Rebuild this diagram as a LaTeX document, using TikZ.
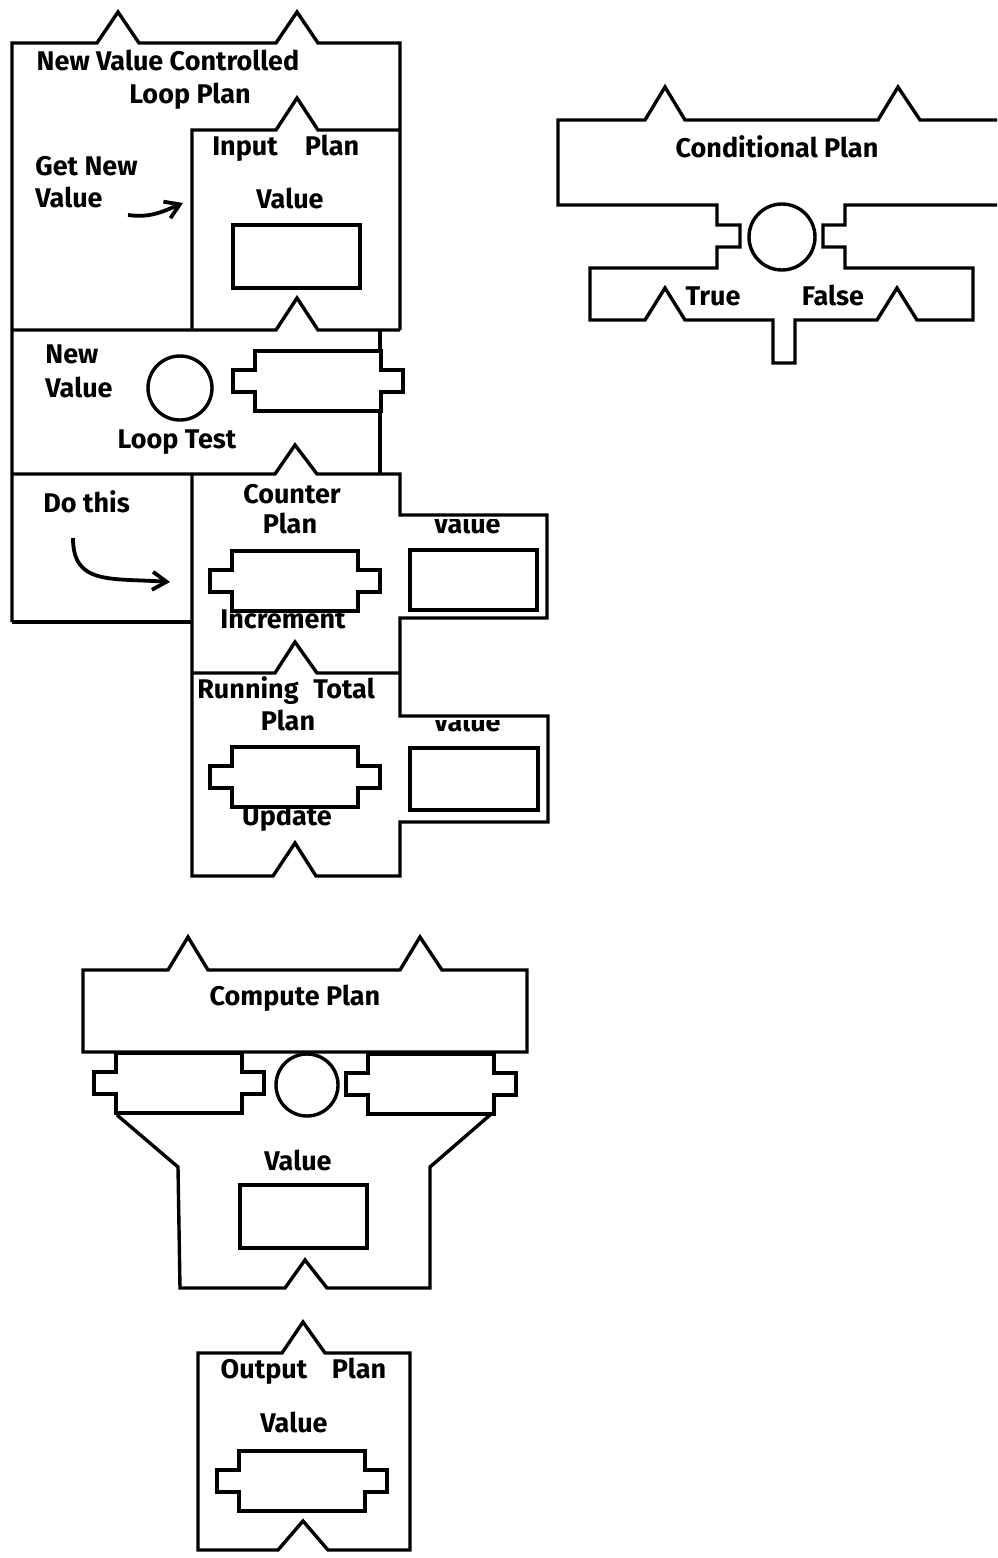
\documentclass[tikz,border=0pt]{standalone}
\usepackage{fontspec}
\setmainfont{Fira Sans}
\usepackage{tikz}
\usetikzlibrary{arrows.meta}

\begin{document}
\begin{tikzpicture}[
    x=0.5pt, y=-0.5pt,
    outline/.style={draw, line width=1.7pt},
    txt/.style={font=\bfseries\fontsize{13.5}{15}\selectfont, inner sep=0pt, anchor=base},
    hand/.style={line width=1.9pt, -{Straight Barb[length=7pt, width=9pt]}},
    plugpic/.pic={
        \draw[outline, fill=white] (-63,-30) -- (63,-30) -- (63,-11) -- (85,-11) -- (85,11) -- (63,11)
            -- (63,30) -- (-63,30) -- (-63,11) -- (-85,11) -- (-85,-11) -- (-63,-11) -- cycle;
    },
]
    \useasboundingbox (0,0) rectangle (997,1558);

    % New value controlled loop plan
    \draw[outline] (12,622) -- (12,43) -- (97,43) -- (118,12) -- (139,43) -- (276,43) -- (297,12) -- (318,43) -- (400,43) -- (400,330);
    \draw[outline] (192,330) -- (192,130) -- (276,130) -- (297,98) -- (318,130) -- (400,130);
    \draw[outline] (12,330) -- (276,330) -- (297,298) -- (318,330) -- (400,330);
    \draw[outline] (380,330) -- (380,474);
    \draw[outline] (12,474) -- (275,474) -- (295,445) -- (317,474) -- (400,474) -- (400,515) -- (547,515) -- (547,618) -- (400,618) -- (400,673);
    \draw[outline] (12,622) -- (192,622);
    \draw[outline] (192,474) -- (192,876) -- (273,876) -- (295,843) -- (316,876) -- (400,876) -- (400,822) -- (548,822) -- (548,716) -- (400,716) -- (400,673);
    \draw[outline] (192,673) -- (275,673) -- (295,642) -- (317,673) -- (400,673);

    \node[txt] (loopname) at (168,70) {New Value Controlled};
    \node[txt] (loopplan) at (190,103) {Loop Plan};
    \node[txt, anchor=base west] (getnew) at (35,175) {Get New};
    \node[txt, anchor=base west] (getvalue) at (35,207) {Value};
    \node[txt] (inputname) at (245,155) {Input};
    \node[txt] (inputplan) at (332,155) {Plan};
    \node[txt] (inputvalue) at (290,208) {Value};
    \draw[outline] (233,225) rectangle (360,288);

    \coordinate (getarrowtail) at (128,215);
    \coordinate (getarrowtip) at (183,203);
    \draw[hand] (getarrowtail) .. controls (150,218) and (162,212) .. (getarrowtip);

    % Loop test
    \node[txt, anchor=base west] (testnew) at (45,363) {New};
    \node[txt, anchor=base west] (testvalue) at (45,397) {Value};
    \draw[outline] (180,388) circle[radius=16pt];
    \pic at (318,381) {plugpic};
    \node[txt] (looptest) at (177,448) {Loop Test};

    % Do this
    \node[txt, anchor=base west] (dothis) at (43,512) {Do this};
    \coordinate (doarrowtail) at (73,538);
    \coordinate (doarrowtip) at (170,582);
    \draw[hand] (doarrowtail) .. controls (73,585) and (110,578) .. (doarrowtip);

    % Counter plan
    \node[txt] (countername) at (292,503) {Counter};
    \node[txt] (counterplan) at (290,533) {Plan};
    \node[txt] (increment) at (283,628) {Increment};
    \pic at (295,581) {plugpic};
    \begin{scope}
        \clip (400,519) rectangle (548,545);
        \node[txt] (countervalue) at (467,533) {Value};
    \end{scope}
    \draw[outline] (410,550) rectangle (537,610);

    % Running total plan
    \node[txt] (runningname) at (248,698) {Running};
    \node[txt] (runningtotal) at (344,698) {Total};
    \node[txt] (runningplan) at (288,730) {Plan};
    \node[txt] (update) at (287,825) {Update};
    \pic at (295,777) {plugpic};
    \begin{scope}
        \clip (400,720) rectangle (548,745);
        \node[txt] (runningvalue) at (467,731) {Value};
    \end{scope}
    \draw[outline] (410,748) rectangle (538,810);

    % Conditional plan
    \draw[outline] (997,120) -- (920,120) -- (898,87) -- (878,120) -- (685,120) -- (665,87) -- (645,120) -- (558,120) -- (558,205)
        -- (717,205) -- (717,225) -- (740,225) -- (740,247) -- (717,247) -- (717,268) -- (590,268) -- (590,320)
        -- (645,320) -- (665,288) -- (685,320) -- (773,320) -- (773,363) -- (795,363) -- (795,320) -- (877,320)
        -- (897,288) -- (917,320) -- (973,320) -- (973,268) -- (845,268) -- (845,247) -- (823,247) -- (823,225)
        -- (845,225) -- (845,205) -- (997,205);
    \draw[outline] (782,237) circle[radius=16.5pt];
    \node[txt] (condname) at (777,157) {Conditional Plan};
    \node[txt] (condtrue) at (713,305) {True};
    \node[txt] (condfalse) at (833,305) {False};

    % Compute plan
    \draw[outline] (83,970) -- (168,970) -- (188,937) -- (208,970) -- (400,970) -- (420,937) -- (442,970) -- (527,970) -- (527,1052) -- (83,1052) -- cycle;
    \pic at (179,1083) {plugpic};
    \pic at (431,1084) {plugpic};
    \draw[outline] (307,1085) circle[radius=15.5pt];
    \draw[outline] (117,1115) -- (178,1167) -- (180,1288) -- (285,1288) -- (305,1260) -- (327,1288) -- (430,1288) -- (430,1167) -- (490,1115);
    \node[txt] (computename) at (295,1005) {Compute Plan};
    \node[txt] (computevalue) at (298,1170) {Value};
    \draw[outline] (240,1185) rectangle (367,1248);

    % Output plan
    \draw[outline] (198,1550) -- (198,1353) -- (282,1353) -- (303,1322) -- (325,1353) -- (410,1353) -- (410,1550) -- (328,1550) -- (303,1521) -- (278,1550) -- cycle;
    \node[txt] (outputname) at (264,1378) {Output};
    \node[txt] (outputplan) at (359,1378) {Plan};
    \node[txt] (outputvalue) at (294,1432) {Value};
    \pic at (302,1481) {plugpic};
\end{tikzpicture}
\end{document}
